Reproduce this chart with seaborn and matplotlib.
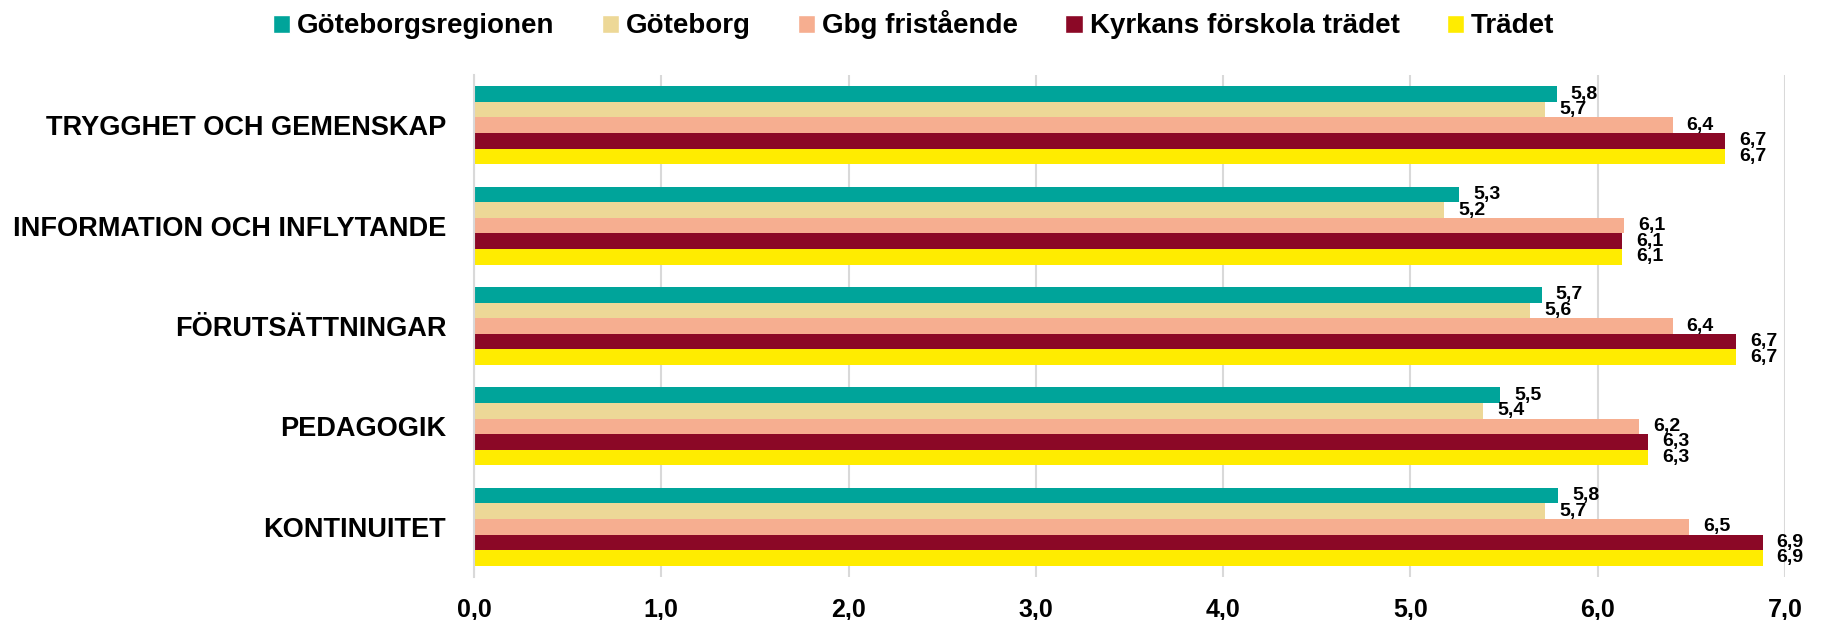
import numpy as np
import pandas as pd
import seaborn as sns
import matplotlib.pyplot as plt
from matplotlib.patches import Patch

categories = ["TRYGGHET OCH GEMENSKAP", "INFORMATION OCH INFLYTANDE",
              "FÖRUTSÄTTNINGAR", "PEDAGOGIK", "KONTINUITET"]
series = ["Göteborgsregionen", "Göteborg", "Gbg fristående",
          "Kyrkans förskola trädet", "Trädet"]
goteborgsregionen = [5.78, 5.26, 5.70, 5.48, 5.79]
goteborg = [5.72, 5.18, 5.64, 5.39, 5.72]
gbg_fristaende = [6.40, 6.14, 6.40, 6.22, 6.49]
kyrkans_forskola = [6.68, 6.13, 6.74, 6.27, 6.88]
tradet = [6.68, 6.13, 6.74, 6.27, 6.88]
xticks = [0, 1, 2, 3, 4, 5, 6, 7]
colors = ["#00A49A", "#EDD897", "#F6AE90", "#8B0826", "#FFEC00"]

values = {
    series[0]: goteborgsregionen,
    series[1]: goteborg,
    series[2]: gbg_fristaende,
    series[3]: kyrkans_forskola,
    series[4]: tradet,
}
rows = []
for s in series:
    for c, v in zip(categories, values[s]):
        rows.append({"Kategori": c, "Serie": s, "Värde": v})
df = pd.DataFrame(rows)

sns.set_theme(style="white")
plt.rcParams['font.family'] = ['Liberation Sans', 'DejaVu Sans']
plt.rcParams['text.color'] = 'black'

def fmt(v):
    return f"{v:.1f}".replace('.', ',')

fig = plt.figure(figsize=(18.27, 6.2), dpi=100)
ax = fig.add_axes([474 / 1827, 1 - 577 / 620, (1785 - 474) / 1827, (577 - 75) / 620])

sns.barplot(data=df, y="Kategori", x="Värde", hue="Serie", order=categories,
            hue_order=series, palette=colors, orient="h", width=0.775,
            saturation=1, linewidth=0, errorbar=None, legend=False, ax=ax)

for container, s in zip(ax.containers, series):
    ax.bar_label(container, labels=[fmt(v) for v in values[s]], padding=10,
                 fontsize=14, fontweight="bold", color="black")

ax.set_xlim(0, 7)
ax.set_xticks(xticks)
ax.set_xticklabels([fmt(t) for t in xticks], fontsize=18, fontweight="bold")
ax.set_xlabel("")
ax.set_ylabel("")
for lab in ax.get_yticklabels():
    lab.set_fontsize(19.5)
    lab.set_fontweight("bold")
ax.grid(axis="x", color="#d9d9d9", lw=1.5)
ax.grid(axis="y", visible=False)
ax.set_axisbelow(True)
for sp in ["top", "right", "bottom"]:
    ax.spines[sp].set_visible(False)
ax.spines["left"].set_color("#d9d9d9")
ax.spines["left"].set_linewidth(1.5)
ax.tick_params(axis="y", which="major", length=0, pad=20, labelcolor="black")
ax.set_yticks(np.arange(-0.5, len(categories), 1), minor=True)
ax.tick_params(axis="y", which="minor", length=6, color="#d9d9d9", width=1.5)
ax.tick_params(axis="x", length=0, pad=15, labelcolor="black")

handles = [Patch(facecolor=c, label=s) for c, s in zip(colors, series)]
fig.legend(handles=handles, loc="center", bbox_to_anchor=(0.5, 0.96), ncol=5,
           frameon=False, prop={"size": 20, "weight": "bold"},
           handlelength=0.62, handleheight=0.62, handletextpad=0.25,
           columnspacing=1.7)

fig.savefig("out.png", dpi=100)
